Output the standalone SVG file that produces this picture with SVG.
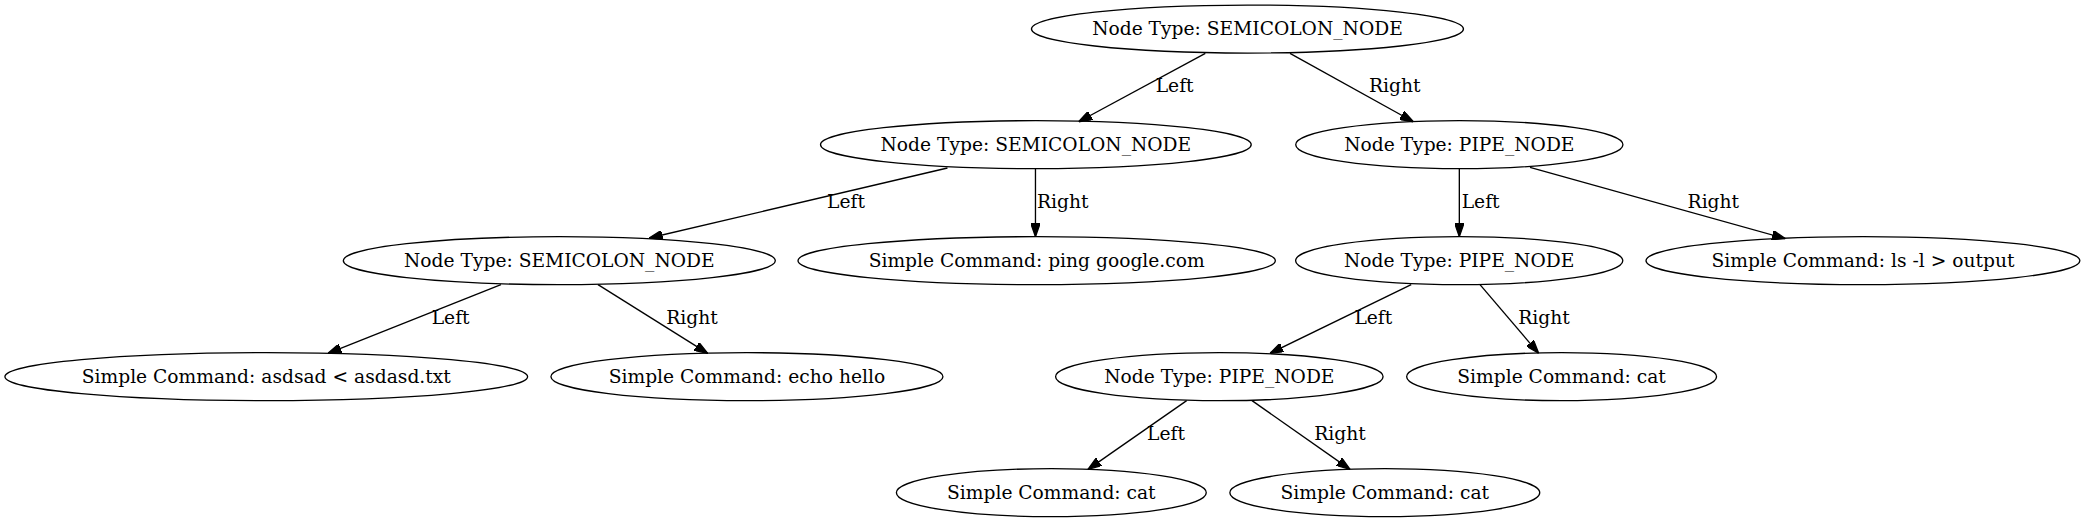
<svg xmlns="http://www.w3.org/2000/svg" width="2085" height="523" viewBox="0 0 2085 523">
<defs>
<marker id="arr" markerWidth="10" markerHeight="7" refX="10" refY="3.5" orient="auto" markerUnits="userSpaceOnUse">
<path d="M0,0 L10,3.5 L0,7 Z" fill="#000" stroke="#000" stroke-width="1"/>
</marker>
<style>
.n ellipse{fill:none;stroke:#000;stroke-width:1}
.n text,.lbl{font-family:"DejaVu Serif","Liberation Serif",serif;font-size:14px;fill:#000}
.n text{text-anchor:middle}
.lbl{text-anchor:middle}
.e line{stroke:#000;stroke-width:1;marker-end:url(#arr)}
</style>
</defs>
<rect width="2085" height="523" fill="#fff"/>
<g transform="scale(1.33333)">
<g id="connectors" class="e">
<line x1="904" y1="40" x2="809" y2="91.3"/>
<line x1="967.5" y1="40" x2="1060" y2="91.3"/>
<line x1="710.6" y1="126" x2="487" y2="178.5"/>
<line x1="776.6" y1="126.5" x2="776.6" y2="177.5"/>
<line x1="1094.5" y1="126.5" x2="1094.5" y2="177.5"/>
<line x1="1147.5" y1="125.5" x2="1339" y2="179"/>
<line x1="375.7" y1="213.5" x2="246" y2="265"/>
<line x1="448.5" y1="213.5" x2="530.8" y2="265"/>
<line x1="1058.4" y1="213.5" x2="952.5" y2="265"/>
<line x1="1110" y1="213.5" x2="1154" y2="265"/>
<line x1="890" y1="300.5" x2="816" y2="352"/>
<line x1="939" y1="300.5" x2="1012.5" y2="352"/>
<text class="lbl" x="881" y="69">Left</text>
<text class="lbl" x="1046" y="69">Right</text>
<text class="lbl" x="634.5" y="156">Left</text>
<text class="lbl" x="797" y="156">Right</text>
<text class="lbl" x="1110.5" y="156">Left</text>
<text class="lbl" x="1285" y="156">Right</text>
<text class="lbl" x="338" y="243">Left</text>
<text class="lbl" x="519" y="243">Right</text>
<text class="lbl" x="1030" y="243">Left</text>
<text class="lbl" x="1158" y="243">Right</text>
<text class="lbl" x="874.5" y="330">Left</text>
<text class="lbl" x="1005" y="330">Right</text>
</g>
<g id="root" class="n"><ellipse cx="935.6" cy="21.8" rx="162" ry="18"/><text x="935.6" y="26.5">Node Type: SEMICOLON_NODE</text></g>
<g id="semi2" class="n"><ellipse cx="776.9" cy="108.5" rx="161.5" ry="18"/><text x="776.9" y="113.2">Node Type: SEMICOLON_NODE</text></g>
<g id="pipe2" class="n"><ellipse cx="1094.5" cy="108.5" rx="122.7" ry="18"/><text x="1094.5" y="113.2">Node Type: PIPE_NODE</text></g>
<g id="semi3" class="n"><ellipse cx="419.5" cy="195.5" rx="162" ry="18"/><text x="419.5" y="200.2">Node Type: SEMICOLON_NODE</text></g>
<g id="ping" class="n"><ellipse cx="777.5" cy="195.5" rx="179" ry="18"/><text x="777.5" y="200.2">Simple Command: ping google.com</text></g>
<g id="pipe3" class="n"><ellipse cx="1094.4" cy="195.5" rx="122.7" ry="18"/><text x="1094.4" y="200.2">Node Type: PIPE_NODE</text></g>
<g id="ls" class="n"><ellipse cx="1397.2" cy="195.5" rx="162.7" ry="18"/><text x="1397.2" y="200.2">Simple Command: ls -l &gt; output</text></g>
<g id="asdsad" class="n"><ellipse cx="199.7" cy="282.5" rx="196" ry="18"/><text x="199.7" y="287.2">Simple Command: asdsad &lt; asdasd.txt</text></g>
<g id="echo" class="n"><ellipse cx="560.2" cy="282.5" rx="147" ry="18"/><text x="560.2" y="287.2">Simple Command: echo hello</text></g>
<g id="pipe4" class="n"><ellipse cx="914.5" cy="282.5" rx="122.8" ry="18"/><text x="914.5" y="287.2">Node Type: PIPE_NODE</text></g>
<g id="cat4" class="n"><ellipse cx="1171.2" cy="282.5" rx="116.2" ry="18"/><text x="1171.2" y="287.2">Simple Command: cat</text></g>
<g id="cat5a" class="n"><ellipse cx="788.5" cy="369.5" rx="116.2" ry="18"/><text x="788.5" y="374.2">Simple Command: cat</text></g>
<g id="cat5b" class="n"><ellipse cx="1038.6" cy="369.5" rx="116.2" ry="18"/><text x="1038.6" y="374.2">Simple Command: cat</text></g>
</g>
</svg>
